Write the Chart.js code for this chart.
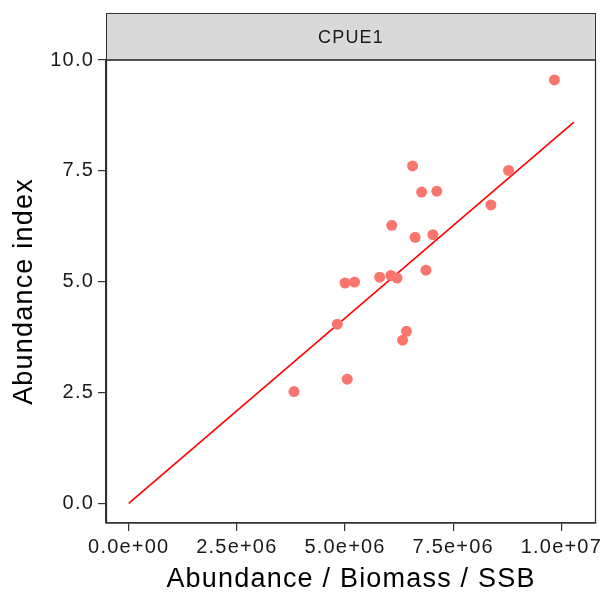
<!DOCTYPE html>
<html>
<head>
<meta charset="utf-8">
<script src="https://cdn.jsdelivr.net/npm/chart.js@4/dist/chart.umd.min.js"></script>
<style>
  html, body { margin: 0; padding: 0; background: #fff; }
  #wrap { width: 604px; height: 592px; }
</style>
</head>
<body>
<div id="wrap"><canvas id="chart" width="604" height="592"></canvas></div>
<script>
// observed points (x = abundance, y = index)
const ssbValues = [3.82e6, 5.05e6, 4.82e6, 5.00e6, 5.22e6, 5.80e6, 6.06e6, 6.20e6, 6.08e6, 6.42e6,
  6.33e6, 6.56e6, 6.62e6, 6.77e6, 6.87e6, 7.03e6, 7.12e6, 8.37e6, 8.78e6, 9.84e6];
const indexValues = [2.52, 2.80, 4.04, 4.97, 4.99, 5.10, 5.14, 5.08, 6.27, 3.88,
  3.68, 7.61, 6.00, 7.02, 5.26, 6.06, 7.04, 6.73, 7.51, 9.55];

// fitted line end points
const fitX = [0, 10.29e6];
const fitY = [0, 8.60];

const xTicks = [0, 2.5e6, 5e6, 7.5e6, 1e7];
const yTicks = [0, 2.5, 5, 7.5, 10];
const panelTitle = "CPUE1";

const FONT = "'Liberation Sans', Arial, sans-serif";
const INK = "#1a1a1a";

function sciLabel(v) {
  if (v === 0) return "0.0e+00";
  const exp = Math.floor(Math.log10(Math.abs(v)));
  const mant = (v / Math.pow(10, exp)).toFixed(1);
  return mant + "e+" + String(exp).padStart(2, "0");
}

// R draws its text a bit wider than Liberation, so open it up a little
const spacingPlugin = {
  id: "spacing",
  beforeDraw(chart) {
    chart.ctx.letterSpacing = "1.2px";
  }
};

// strip + panel border like a ggplot facet
const facetPlugin = {
  id: "facet",
  afterDraw(chart) {
    const { ctx, chartArea: a } = chart;
    ctx.save();
    ctx.fillStyle = "#d9d9d9";
    ctx.fillRect(a.left, 13.5, a.right - a.left, a.top - 13.5);
    ctx.strokeStyle = "#333";
    ctx.lineWidth = 1;
    ctx.strokeRect(a.left + 0.5, 13.5, a.right - a.left - 1, a.top - 13.5);
    ctx.lineWidth = 1.3;
    ctx.strokeRect(a.left + 0.5, a.top, a.right - a.left - 1, a.bottom - a.top);
    ctx.fillStyle = INK;
    ctx.font = "18px " + FONT;
    ctx.textAlign = "center";
    ctx.textBaseline = "middle";
    ctx.fillText(panelTitle, (a.left + a.right) / 2, (13.5 + a.top) / 2 + 1);
    ctx.restore();
  }
};

const points = ssbValues.map((x, i) => ({ x: x, y: indexValues[i] }));
const fitLine = fitX.map((x, i) => ({ x: x, y: fitY[i] }));

new Chart(document.getElementById("chart"), {
  type: "scatter",
  data: {
    datasets: [
      {
        data: points,
        backgroundColor: "#F8766D",
        borderColor: "#F8766D",
        pointRadius: 5.5,
        pointBorderWidth: 0
      },
      {
        type: "line",
        data: fitLine,
        borderColor: "#ff0000",
        borderWidth: 1.6,
        pointRadius: 0,
        fill: false
      }
    ]
  },
  options: {
    responsive: false,
    animation: false,
    layout: { padding: { top: 60, right: 8, left: 0, bottom: 0 } },
    plugins: { legend: { display: false }, tooltip: { enabled: false } },
    scales: {
      x: {
        type: "linear",
        min: -0.525e6,
        max: 10.8e6,
        afterBuildTicks(scale) { scale.ticks = xTicks.map(v => ({ value: v })); },
        afterFit(scale) { scale.height = 69; },
        grid: { drawOnChartArea: false, drawTicks: true, tickLength: 8, color: "#333", lineWidth: 1.2 },
        border: { display: true, color: "#333", width: 1.3 },
        ticks: {
          color: INK,
          font: { family: FONT, size: 20 },
          padding: 4,
          maxRotation: 0,
          callback: v => sciLabel(v)
        },
        title: {
          display: true,
          text: "Abundance / Biomass / SSB",
          color: "#000",
          font: { family: FONT, size: 27, lineHeight: 0.9 },
          padding: { top: 0, bottom: 0 }
        }
      },
      y: {
        type: "linear",
        min: -0.444,
        max: 10.0,
        afterBuildTicks(scale) { scale.ticks = yTicks.map(v => ({ value: v })); },
        afterFit(scale) { scale.width = 106; },
        grid: { drawOnChartArea: false, drawTicks: true, tickLength: 8, color: "#333", lineWidth: 1.2 },
        border: { display: true, color: "#333", width: 1.3 },
        ticks: {
          color: INK,
          font: { family: FONT, size: 20 },
          padding: 4,
          callback: v => v.toFixed(1)
        },
        title: {
          display: true,
          text: "Abundance index",
          color: "#000",
          font: { family: FONT, size: 27, lineHeight: 1 },
          padding: { top: 11, bottom: 0 }
        }
      }
    }
  },
  plugins: [spacingPlugin, facetPlugin]
});
</script>
</body>
</html>
